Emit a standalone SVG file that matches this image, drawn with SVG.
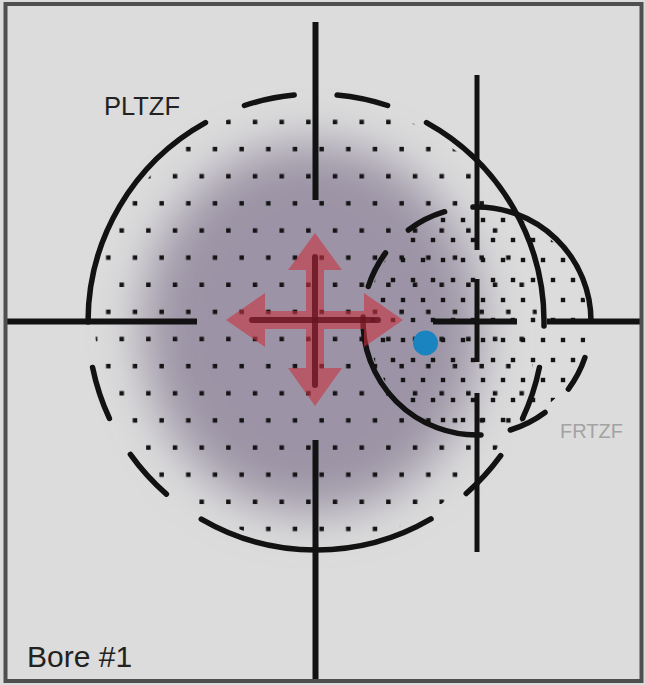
<svg xmlns="http://www.w3.org/2000/svg" width="645" height="685" viewBox="0 0 645 685">
  <style>
    .ring { fill: none; stroke: #121212; stroke-width: 5.5; stroke-linecap: round; }
    .hair { stroke: #121212; stroke-width: 6; stroke-linecap: butt; }
    .hair2 { stroke: #121212; stroke-width: 5; stroke-linecap: butt; }
    .lbl { font-family: "Liberation Sans", Arial, sans-serif; }
  </style>
  <defs>
    <filter id="blur" x="-40%" y="-40%" width="180%" height="180%">
      <feGaussianBlur stdDeviation="24"/>
    </filter>
    <pattern id="dotsA" patternUnits="userSpaceOnUse" x="181.67" y="108.44" width="26.667" height="54.26">
      <rect x="17.8" y="11.3" width="4.5" height="4.5" fill="#141414"/>
      <rect x="4.4" y="38.4" width="4.5" height="4.5" fill="#141414"/>
    </pattern>
    <pattern id="dotsB" patternUnits="userSpaceOnUse" x="0" y="330" width="20" height="40">
      <rect x="0.8" y="7.8" width="4.4" height="4.4" fill="#141414"/>
      <rect x="10.8" y="27.8" width="4.4" height="4.4" fill="#141414"/>
    </pattern>
  </defs>

  <rect id="background" x="0" y="0" width="645" height="685" fill="#dcdcdc"/>

  <g id="shade">
    <ellipse cx="312" cy="328" rx="170" ry="185" fill="#9c94a6" filter="url(#blur)"/>
  </g>

  <g id="grid-pltzf">
    <circle cx="316" cy="322" r="221" fill="url(#dotsA)"/>
  </g>
  <g id="grid-frtzf">
    <circle cx="477" cy="321" r="110" fill="url(#dotsB)"/>
  </g>

  <g id="circle-pltzf" class="ring">
    <path d="M205.5 122.6 A228 228 0 0 0 88 322"/>
    <path d="M244.4 105.5 A228 228 0 0 1 294.2 95"/>
    <path d="M337.1 95 A228 228 0 0 1 387.6 105.5"/>
    <path d="M426.5 122.6 A228 228 0 0 1 544 326"/>
    <path d="M539.4 367.5 A228 228 0 0 1 522.6 418.4"/>
    <path d="M500.7 455.7 A228 228 0 0 1 466.2 493.5"/>
    <path d="M431 518.9 A228 228 0 0 1 201.3 519.1"/>
    <path d="M166.4 494.1 A228 228 0 0 1 130.4 454.4"/>
    <path d="M109.4 418.4 A228 228 0 0 1 92.6 367.5"/>
  </g>

  <g id="circle-frtzf" class="ring">
    <path d="M363.1 317 A114 114 0 0 0 481 434.9"/>
    <path d="M368.3 286.5 A114 114 0 0 1 385.5 253"/>
    <path d="M408.4 230 A114 114 0 0 1 444.6 211.7"/>
    <path d="M473 207.1 A114 114 0 0 1 591 321"/>
    <path d="M584.9 357.7 A114 114 0 0 1 568.4 389.1"/>
    <path d="M545 412.5 A114 114 0 0 1 510.3 430"/>
  </g>

  <g id="connectors">
    <g id="crosshair-main">
      <line class="hair" x1="7" y1="321.5" x2="197" y2="321.5"/>
      <line class="hair" x1="315.5" y1="22" x2="315.5" y2="200"/>
      <line class="hair" x1="315.5" y1="440" x2="315.5" y2="681"/>
    </g>
    <g id="crosshair-frtzf">
      <line class="hair2" x1="477" y1="75" x2="477" y2="250"/>
      <line class="hair2" x1="477" y1="279" x2="477" y2="362"/>
      <line class="hair2" x1="477" y1="393" x2="477" y2="552"/>
      <line class="hair" x1="433" y1="321.5" x2="517" y2="321.5"/>
      <line class="hair" x1="547" y1="321.5" x2="641" y2="321.5"/>
    </g>
  </g>

  <g id="arrow">
    <polygon fill="#c8323f" fill-opacity="0.6" points="315,233 342,270 324,270 324,311 364,311 364,293 403,320 364,347 364,329 324,329 324,368 342,368 315,406 288,368 306,368 306,329 265,329 265,347 226,320 265,293 265,311 306,311 306,270 288,270"/>
    <g stroke="#6b1522" stroke-width="6" stroke-linecap="round" stroke-opacity="0.85">
      <line x1="315" y1="257" x2="315" y2="385"/>
      <line x1="252" y1="320" x2="378" y2="320"/>
    </g>
  </g>

  <g id="target">
    <circle cx="425.5" cy="343" r="12.5" fill="#1a84c1"/>
  </g>

  <g id="label-pltzf">
    <text class="lbl" x="104" y="115" font-size="25.5" fill="#222">PLTZF</text>
  </g>
  <g id="label-frtzf">
    <text class="lbl" x="560" y="438" font-size="20" fill="#a3a3a3">FRTZF</text>
  </g>
  <g id="label-bore">
    <text class="lbl" x="27" y="667" font-size="30" fill="#23221e">Bore #1</text>
  </g>

  <rect id="frame" x="5.5" y="4" width="636" height="677" fill="none" stroke="#4f4f4f" stroke-width="4"/>
</svg>
